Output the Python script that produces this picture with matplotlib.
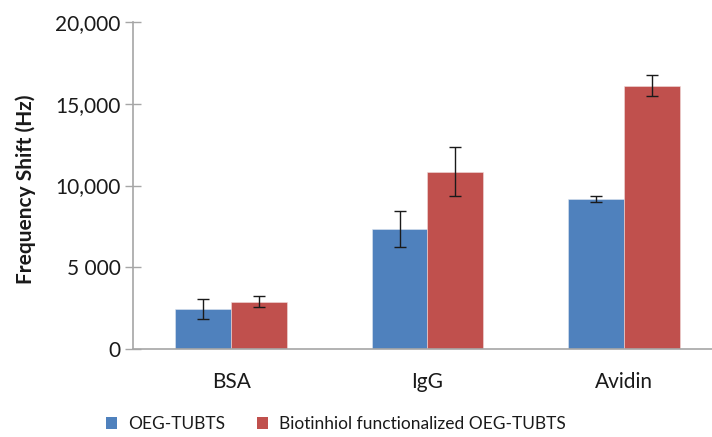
import matplotlib
matplotlib.use("Agg")
import matplotlib.pyplot as plt
import numpy as np
from matplotlib.patches import Patch

categories = ["BSA", "IgG", "Avidin"]
series_names = ["OEG-TUBTS", "Biotinhiol functionalized OEG-TUBTS"]
oeg_values = [2420, 7340, 9150]
oeg_errors = [620, 1090, 180]
biotin_values = [2870, 10850, 16120]
biotin_errors = [340, 1510, 640]
ytick_values = [0, 5000, 10000, 15000, 20000]
ytick_labels = ["0", "5 000", "10,000", "15,000", "20,000"]

plt.rcParams["font.family"] = ["Lato", "DejaVu Sans"]

fig = plt.figure(figsize=(7.12, 4.37), dpi=100)
ax = fig.add_axes([133 / 712, 88.3 / 437, (712 - 133) / 712, 326.4 / 437])

blue = "#4F81BD"
red = "#C0504D"
axis_gray = "#A6A6A6"
text_color = "#1a1a1a"
width = 0.285
x = np.arange(len(categories))

ax.bar(x - width / 2, oeg_values, width, color=blue, edgecolor="#dfe6f0", linewidth=0.4, zorder=2)
ax.bar(x + width / 2, biotin_values, width, color=red, edgecolor="#f0dcdc", linewidth=0.4, zorder=2)
ax.errorbar(x - width / 2, oeg_values, yerr=oeg_errors, fmt="none", ecolor=text_color,
            elinewidth=1.0, capsize=4, capthick=1.0, zorder=3)
ax.errorbar(x + width / 2, biotin_values, yerr=biotin_errors, fmt="none", ecolor=text_color,
            elinewidth=1.0, capsize=4, capthick=1.0, zorder=3)

ax.set_xlim(-0.5, 2.5 - 10 / 196.5)
ax.set_ylim(0, 20000)
ax.set_yticks(ytick_values)
ax.set_yticklabels(ytick_labels, fontsize=15, color=text_color)
ax.set_xticks(x)
ax.set_xticklabels(categories, fontsize=15, color=text_color)

for side in ["top", "right"]:
    ax.spines[side].set_visible(False)
for side in ["left", "bottom"]:
    ax.spines[side].set_color(axis_gray)
    ax.spines[side].set_linewidth(1.2)

ax.tick_params(axis="y", direction="inout", length=11.5, width=1.0, color=axis_gray, pad=3)
ax.tick_params(axis="x", length=0, pad=17)

ax.set_ylabel("Frequency Shift (Hz)", fontsize=15, fontweight="bold", color=text_color)
ax.yaxis.set_label_coords(-(133 - 36) / 579, 0.5 - 4 / 326.4)

handles = [Patch(facecolor=blue, edgecolor="none"), Patch(facecolor=red, edgecolor="none")]
fig.legend(handles, series_names, loc="center", bbox_to_anchor=(336 / 712, (437 - 424) / 437),
           ncol=2, frameon=False, fontsize=12.5, handlelength=0.65, handleheight=0.65,
           handletextpad=0.65, columnspacing=1.8, labelcolor=text_color)

fig.savefig("out.png", dpi=100)
